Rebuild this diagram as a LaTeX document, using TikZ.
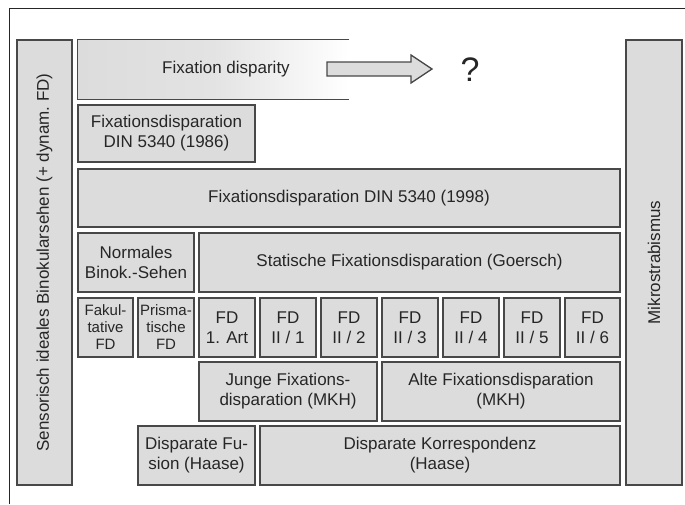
\documentclass[tikz,border=0pt]{standalone}
\usepackage{fontspec}
\setmainfont{Liberation Sans}
\definecolor{boxfill}{HTML}{DCDCDC}
\definecolor{boxline}{HTML}{484848}
\definecolor{txt}{HTML}{262626}
\tikzset{
  bx/.style={draw=boxline, fill=boxfill, line width=1.3pt, inner sep=0pt,
    align=center, text=txt, font=\fontsize{17}{20}\selectfont},
  sm/.style={font=\fontsize{15}{17}\selectfont},
  frameline/.style={draw=black!85, line width=1pt}
}
\newcommand\mybox[7][]{\node[bx,#1,minimum width={(#5-#3)*1pt},minimum height={(#6-#4)*1pt}] (#2) at ({(#3+#5)/2},{(#4+#6)/2}) {#7};}
\begin{document}
\begin{tikzpicture}[x=1pt,y=-1pt]
\useasboundingbox (0,0) rectangle (685,504);
\coordinate (fbl) at (9,504);
\coordinate (ftl) at (9,8);
\coordinate (ftr) at (685,8);
\draw[frameline] (fbl) -- (ftl) -- (ftr);

% left and right tall boxes
\node[bx, rotate=90, minimum width=445pt, minimum height=55pt] (sens) at (44.5,262.5) {Sensorisch ideales Binokularsehen (+ dynam.\ FD)};
\node[bx, rotate=90, minimum width=445pt, minimum height=56pt] (mikro) at (654,262.5) {Mikrostrabismus};

% fixation disparity (fading box)
\node[inner sep=0pt, minimum width=271pt, minimum height=59pt, left color=boxfill, right color=white, middle color=boxfill!80!white] (fdbox) at (213.5,69.5) {};
\draw[boxline, line width=1.3pt] (fdbox.north east) -- (fdbox.north west) -- (fdbox.south west) -- (fdbox.south east);
\node[text=txt, font=\fontsize{17}{20}\selectfont] (fdtext) at (226,69) {Fixation disparity};
\node[text=txt, font=\fontsize{34}{38}\selectfont] (q) at (470,70) {?};
\draw[boxline, fill=boxfill, line width=1.3pt] (327,62) -- (411,62) -- (411,55) -- (432,69) -- (411,83) -- (411,76) -- (327,76) -- cycle;

\mybox{din86}{78}{105}{255}{162}{Fixationsdisparation\\DIN 5340 (1986)}
\mybox{din98}{78}{169}{620}{227}{Fixationsdisparation DIN 5340 (1998)}
\mybox{norm}{78}{233}{194}{292}{Normales\\Binok.-Sehen}
\mybox{stat}{199}{233}{620}{292}{Statische Fixationsdisparation (Goersch)}

\mybox[sm]{fak}{78}{298}{133}{357}{Fakul-\\tative\\FD}
\mybox[sm]{pri}{138}{298}{194}{357}{Prisma-\\tische\\FD}
\mybox{fd1}{199}{298}{255}{357}{FD\\1. Art}
\mybox{fd21}{260}{298}{316}{357}{FD\\II / 1}
\mybox{fd22}{321}{298}{377}{357}{FD\\II / 2}
\mybox{fd23}{382}{298}{438}{357}{FD\\II / 3}
\mybox{fd24}{443}{298}{499}{357}{FD\\II / 4}
\mybox{fd25}{504}{298}{560}{357}{FD\\II / 5}
\mybox{fd26}{565}{298}{620}{357}{FD\\II / 6}

\mybox{junge}{199}{362}{377}{421}{Junge Fixations-\\disparation (MKH)}
\mybox{alte}{382}{362}{620}{421}{Alte Fixationsdisparation\\(MKH)}
\mybox{fusion}{138}{426}{255}{485}{Disparate Fu-\\sion (Haase)}
\mybox{korr}{260}{426}{620}{485}{Disparate Korrespondenz\\(Haase)}
\end{tikzpicture}
\end{document}
